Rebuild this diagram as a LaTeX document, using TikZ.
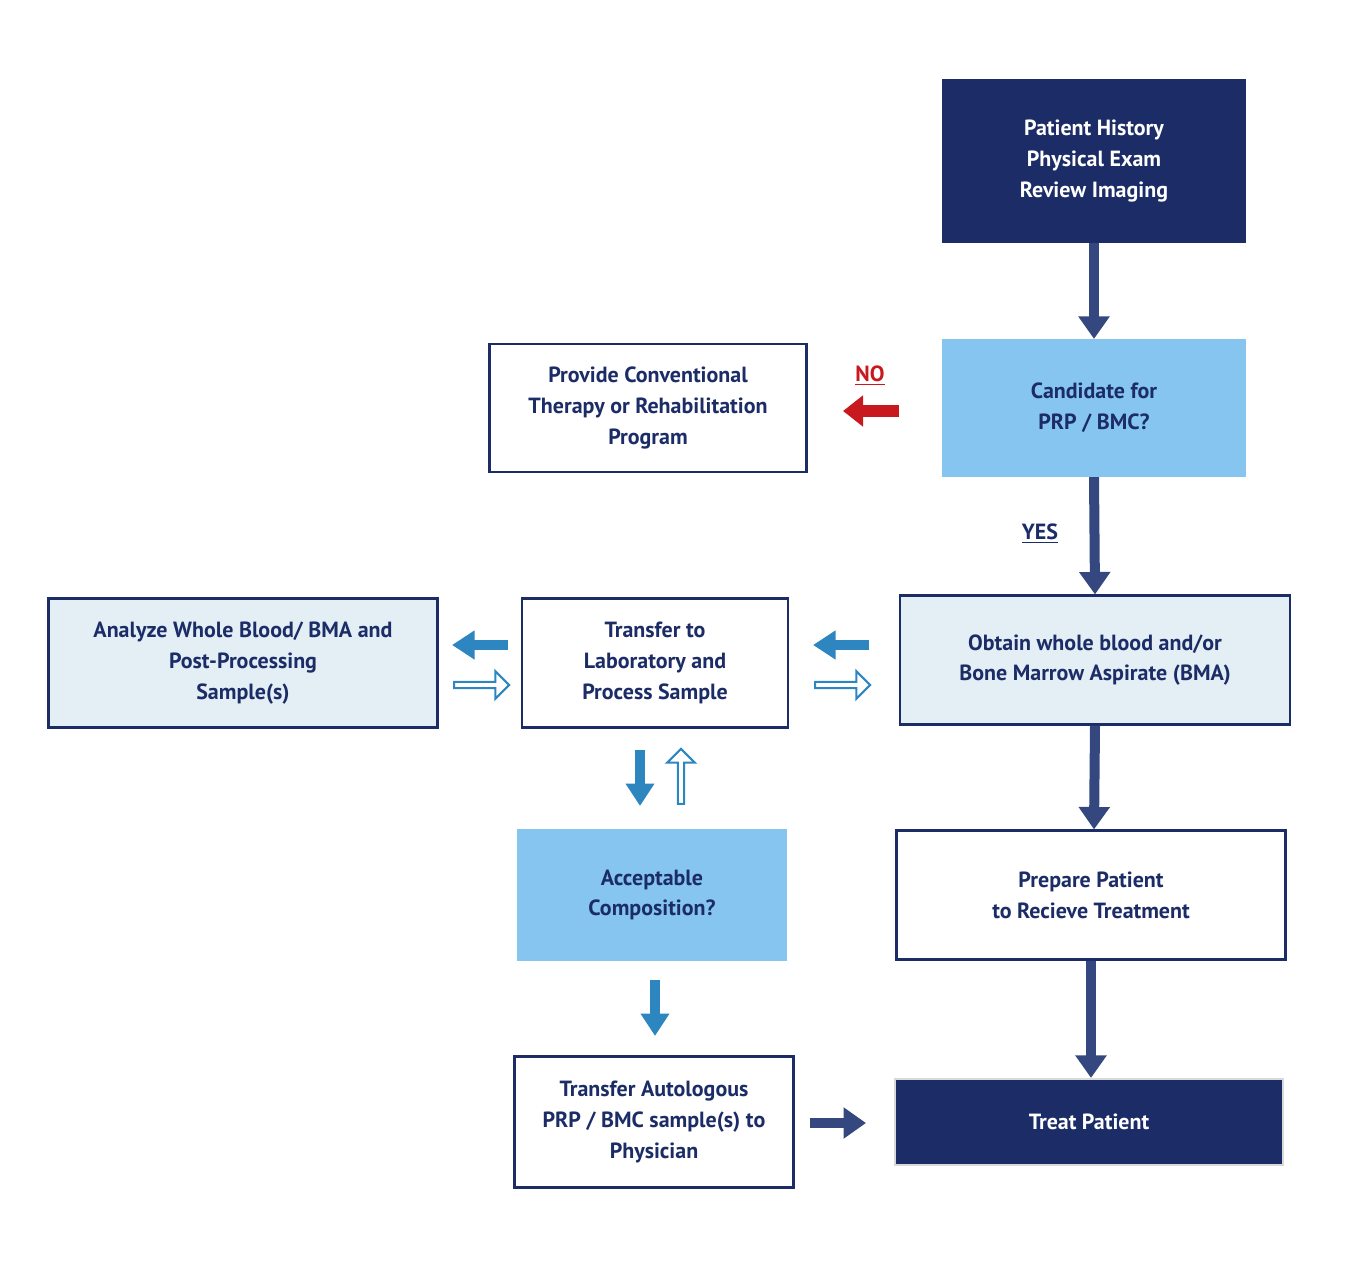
\documentclass[tikz,border=0pt]{standalone}
\usepackage{fontspec}
\setmainfont{PT Sans}
\usetikzlibrary{arrows.meta,shapes.arrows}
\definecolor{navy}{HTML}{1B2C66}
\definecolor{darrow}{HTML}{34477F}
\definecolor{skyb}{HTML}{85C5EF}
\definecolor{paleb}{HTML}{E3EEF5}
\definecolor{barrow}{HTML}{2E86C1}
\definecolor{noRed}{HTML}{C8191E}
\tikzset{
  box/.style={draw=navy,line width=1.2pt,align=center,text=navy,font=\bfseries\fontsize{12.5}{17.5}\selectfont,inner sep=0pt},
  flow/.style={draw=darrow,line width=0.2cm,-{Triangle[width=0.6cm,length=0.45cm]}},
  bflow/.style={draw=barrow,line width=0.2cm,-{Triangle[width=0.55cm,length=0.45cm]}},
  hollow/.style={single arrow,draw=barrow,fill=white,line width=1.2pt,minimum width=0.55cm,single arrow head extend=0.14cm,minimum height=1.1cm,inner sep=0.6pt},
}
\begin{document}
\begin{tikzpicture}[x=0.02cm,y=-0.02cm]
\useasboundingbox (0,0) rectangle (1365,1270);
% boxes
\node[box,fill=navy,draw=navy,text=white,minimum width=302*0.02cm,minimum height=162*0.02cm] (hist) at (1094,161) {Patient History\\Physical Exam\\Review Imaging};
\node[box,fill=skyb,draw=skyb,minimum width=302*0.02cm,minimum height=136*0.02cm] (cand) at (1094,408) {Candidate for\\PRP / BMC?};
\node[box,fill=white,minimum width=317*0.02cm,minimum height=128*0.02cm] (conv) at (648,408) {Provide Conventional\\Therapy or Rehabilitation\\Program};
\node[box,fill=paleb,minimum width=390*0.02cm,minimum height=129*0.02cm] (obtain) at (1095,660) {Obtain whole blood and/or\\Bone Marrow Aspirate (BMA)};
\node[box,fill=white,minimum width=266*0.02cm,minimum height=129*0.02cm] (lab) at (655,663) {Transfer to\\Laboratory and\\Process Sample};
\node[box,fill=paleb,minimum width=389*0.02cm,minimum height=129*0.02cm] (anal) at (243,663) {Analyze Whole Blood/ BMA and\\Post-Processing\\Sample(s)};
\node[box,fill=skyb,draw=skyb,minimum width=267*0.02cm,minimum height=130*0.02cm] (accept) at (652,895) {Acceptable\\Composition?};
\node[box,fill=white,minimum width=389*0.02cm,minimum height=129*0.02cm] (prep) at (1091,895) {Prepare Patient\\to Recieve Treatment};
\node[box,fill=white,minimum width=279*0.02cm,minimum height=131*0.02cm] (auto) at (654,1122) {Transfer Autologous\\PRP / BMC sample(s) to\\Physician};
\node[box,fill=navy,draw=black!15,text=white,minimum width=388*0.02cm,minimum height=86*0.02cm] (treat) at (1089,1122) {Treat Patient};
% labels
\node[text=noRed,font=\bfseries\fontsize{12.5}{15}\selectfont] (no) at (870,376) {\underline{NO}};
\node[text=navy,font=\bfseries\fontsize{12.5}{15}\selectfont] (yes) at (1040,534) {\underline{YES}};
% main arrows
\draw[flow] (hist.south) -- (cand.north);
\draw[flow] (cand.south) -- (obtain.north);
\draw[flow] (obtain.south) -- ([xshift=-0.02cm]prep.north -| obtain.south);
\draw[flow] (prep.south) -- (prep.south |- treat.north);
% free arrows
\coordinate (n1) at (899,411); \coordinate (n2) at (843,411);
\draw[draw=noRed,line width=0.25cm,-{Triangle[width=0.6cm,length=0.4cm]}] (n1) -- (n2);
\coordinate (a1) at (869,645); \coordinate (a2) at (813,645);
\draw[bflow] (a1) -- (a2);
\node[hollow] (h1) at (841,685) {};
\coordinate (b1) at (508,645); \coordinate (b2) at (452,645);
\draw[bflow] (b1) -- (b2);
\node[hollow] (h2) at (480,685) {};
\coordinate (c1) at (640,750); \coordinate (c2) at (640,806);
\draw[bflow] (c1) -- (c2);
\node[hollow,shape border rotate=90] (h3) at (681,778) {};
\coordinate (d1) at (655,980); \coordinate (d2) at (655,1036);
\draw[bflow] (d1) -- (d2);
\coordinate (e1) at (810,1123); \coordinate (e2) at (866,1123);
\draw[flow] (e1) -- (e2);
\end{tikzpicture}
\end{document}
